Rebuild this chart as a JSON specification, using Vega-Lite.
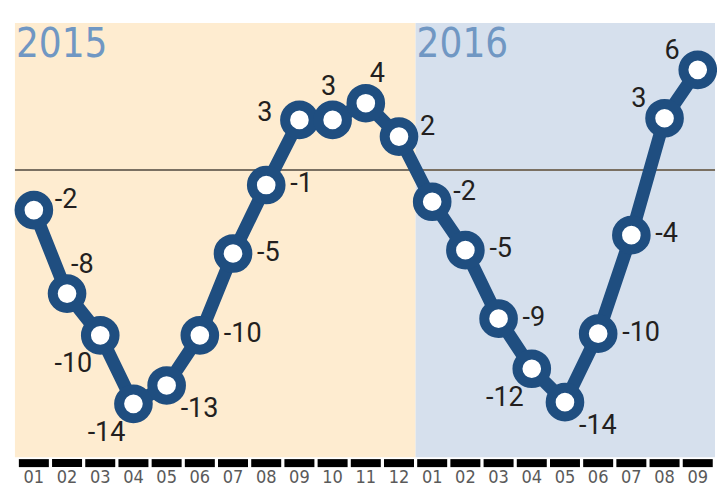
{
  "$schema": "https://vega.github.io/schema/vega-lite/v6.json",
  "width": 717,
  "height": 487,
  "padding": 0,
  "autosize": {"type": "none"},
  "background": "white",
  "config": {"view": {"stroke": null}},
  "datasets": {
    "years": [
      {"year": "2015", "from": 0.43, "to": 12.5},
      {"year": "2016", "from": 12.5, "to": 21.52}
    ],
    "months": [
      {"i": 1, "m": "01", "v": -2.4, "label": "-2", "pos": "ur"},
      {"i": 2, "m": "02", "v": -7.4, "label": "-8", "pos": "ar"},
      {"i": 3, "m": "03", "v": -9.9, "label": "-10", "pos": "bl"},
      {"i": 4, "m": "04", "v": -14, "label": "-14", "pos": "bl"},
      {"i": 5, "m": "05", "v": -12.9, "label": "-13", "pos": "br"},
      {"i": 6, "m": "06", "v": -9.9, "label": "-10", "pos": "r"},
      {"i": 7, "m": "07", "v": -5, "label": "-5", "pos": "r"},
      {"i": 8, "m": "08", "v": -0.9, "label": "-1", "pos": "r"},
      {"i": 9, "m": "09", "v": 3, "label": "3", "pos": "l"},
      {"i": 10, "m": "10", "v": 3, "label": "3", "pos": "a"},
      {"i": 11, "m": "11", "v": 4, "label": "4", "pos": "ar"},
      {"i": 12, "m": "12", "v": 2, "label": "2", "pos": "ur"},
      {"i": 13, "m": "01", "v": -1.9, "label": "-2", "pos": "ur"},
      {"i": 14, "m": "02", "v": -4.8, "label": "-5", "pos": "r"},
      {"i": 15, "m": "03", "v": -8.9, "label": "-9", "pos": "r"},
      {"i": 16, "m": "04", "v": -11.9, "label": "-12", "pos": "bl"},
      {"i": 17, "m": "05", "v": -13.9, "label": "-14", "pos": "br"},
      {"i": 18, "m": "06", "v": -9.8, "label": "-10", "pos": "r"},
      {"i": 19, "m": "07", "v": -3.9, "label": "-4", "pos": "r"},
      {"i": 20, "m": "08", "v": 3.1, "label": "3", "pos": "al"},
      {"i": 21, "m": "09", "v": 6, "label": "6", "pos": "al"}
    ]
  },
  "layer": [
    {
      "data": {"name": "years"},
      "mark": {"type": "rect"},
      "encoding": {
        "x": {"field": "from", "type": "quantitative", "scale": {"domain": [-0.02, 21.58], "nice": false, "zero": false}, "axis": null},
        "x2": {"field": "to"},
        "y": {"datum": 8.8, "type": "quantitative", "scale": {"domain": [-18.98, 10.18], "nice": false, "zero": false}, "axis": null},
        "y2": {"datum": -17.2},
        "color": {"field": "year", "type": "nominal", "scale": {"domain": ["2015", "2016"], "range": ["#feecd0", "#d6e0ed"]}, "legend": null}
      }
    },
    {
      "data": {"name": "years"},
      "mark": {"type": "rule", "color": "#7a7062", "strokeWidth": 2},
      "encoding": {
        "x": {"field": "from", "type": "quantitative"},
        "x2": {"field": "to"},
        "y": {"datum": 0, "type": "quantitative"}
      }
    },
    {
      "data": {"name": "years"},
      "mark": {"type": "text", "align": "left", "baseline": "alphabetic", "dx": 1, "font": "DejaVu Sans Condensed, Roboto, sans-serif", "fontSize": 40, "color": "#7097c3"},
      "encoding": {
        "x": {"field": "from", "type": "quantitative"},
        "y": {"datum": 6.77, "type": "quantitative"},
        "text": {"field": "year"}
      }
    },
    {
      "data": {"name": "months"},
      "mark": {"type": "line", "color": "#1f4e80", "strokeWidth": 13},
      "encoding": {
        "x": {"field": "i", "type": "quantitative"},
        "y": {"field": "v", "type": "quantitative"}
      }
    },
    {
      "data": {"name": "months"},
      "mark": {"type": "point", "shape": "circle", "filled": true, "fill": "white", "stroke": "#1f4e80", "strokeWidth": 10, "size": 820, "opacity": 1},
      "encoding": {
        "x": {"field": "i", "type": "quantitative"},
        "y": {"field": "v", "type": "quantitative"}
      }
    },
    {
      "data": {"name": "months"},
      "mark": {"type": "tick", "orient": "horizontal", "size": 30, "thickness": 8, "color": "black", "opacity": 1},
      "encoding": {
        "x": {"field": "i", "type": "quantitative"},
        "y": {"datum": -17.55, "type": "quantitative"}
      }
    },
    {
      "data": {"name": "months"},
      "mark": {"type": "text", "align": "center", "baseline": "middle", "font": "DejaVu Sans Condensed, Roboto, sans-serif", "fontSize": 18, "color": "#5a5a5a"},
      "encoding": {
        "x": {"field": "i", "type": "quantitative"},
        "y": {"datum": -18.42, "type": "quantitative"},
        "text": {"field": "m"}
      }
    },
    {
      "data": {"name": "months"},
      "transform": [{"filter": "datum.pos === 'ur'"}],
      "mark": {"type": "text", "align": "left", "baseline": "middle", "dx": 21, "dy": -10, "font": "Roboto", "fontSize": 27, "color": "#231f20"},
      "encoding": {"x": {"field": "i", "type": "quantitative"}, "y": {"field": "v", "type": "quantitative"}, "text": {"field": "label"}}
    },
    {
      "data": {"name": "months"},
      "transform": [{"filter": "datum.pos === 'r'"}],
      "mark": {"type": "text", "align": "left", "baseline": "middle", "dx": 24, "dy": -1, "font": "Roboto", "fontSize": 27, "color": "#231f20"},
      "encoding": {"x": {"field": "i", "type": "quantitative"}, "y": {"field": "v", "type": "quantitative"}, "text": {"field": "label"}}
    },
    {
      "data": {"name": "months"},
      "transform": [{"filter": "datum.pos === 'ar'"}],
      "mark": {"type": "text", "align": "left", "baseline": "middle", "dx": 4, "dy": -29, "font": "Roboto", "fontSize": 27, "color": "#231f20"},
      "encoding": {"x": {"field": "i", "type": "quantitative"}, "y": {"field": "v", "type": "quantitative"}, "text": {"field": "label"}}
    },
    {
      "data": {"name": "months"},
      "transform": [{"filter": "datum.pos === 'bl'"}],
      "mark": {"type": "text", "align": "right", "baseline": "middle", "dx": -8, "dy": 29, "font": "Roboto", "fontSize": 27, "color": "#231f20"},
      "encoding": {"x": {"field": "i", "type": "quantitative"}, "y": {"field": "v", "type": "quantitative"}, "text": {"field": "label"}}
    },
    {
      "data": {"name": "months"},
      "transform": [{"filter": "datum.pos === 'br'"}],
      "mark": {"type": "text", "align": "left", "baseline": "middle", "dx": 14, "dy": 24, "font": "Roboto", "fontSize": 27, "color": "#231f20"},
      "encoding": {"x": {"field": "i", "type": "quantitative"}, "y": {"field": "v", "type": "quantitative"}, "text": {"field": "label"}}
    },
    {
      "data": {"name": "months"},
      "transform": [{"filter": "datum.pos === 'l'"}],
      "mark": {"type": "text", "align": "right", "baseline": "middle", "dx": -27, "dy": -7, "font": "Roboto", "fontSize": 27, "color": "#231f20"},
      "encoding": {"x": {"field": "i", "type": "quantitative"}, "y": {"field": "v", "type": "quantitative"}, "text": {"field": "label"}}
    },
    {
      "data": {"name": "months"},
      "transform": [{"filter": "datum.pos === 'a'"}],
      "mark": {"type": "text", "align": "center", "baseline": "middle", "dx": -4, "dy": -33, "font": "Roboto", "fontSize": 27, "color": "#231f20"},
      "encoding": {"x": {"field": "i", "type": "quantitative"}, "y": {"field": "v", "type": "quantitative"}, "text": {"field": "label"}}
    },
    {
      "data": {"name": "months"},
      "transform": [{"filter": "datum.pos === 'al'"}],
      "mark": {"type": "text", "align": "right", "baseline": "middle", "dx": -18, "dy": -19, "font": "Roboto", "fontSize": 27, "color": "#231f20"},
      "encoding": {"x": {"field": "i", "type": "quantitative"}, "y": {"field": "v", "type": "quantitative"}, "text": {"field": "label"}}
    }
  ]
}
